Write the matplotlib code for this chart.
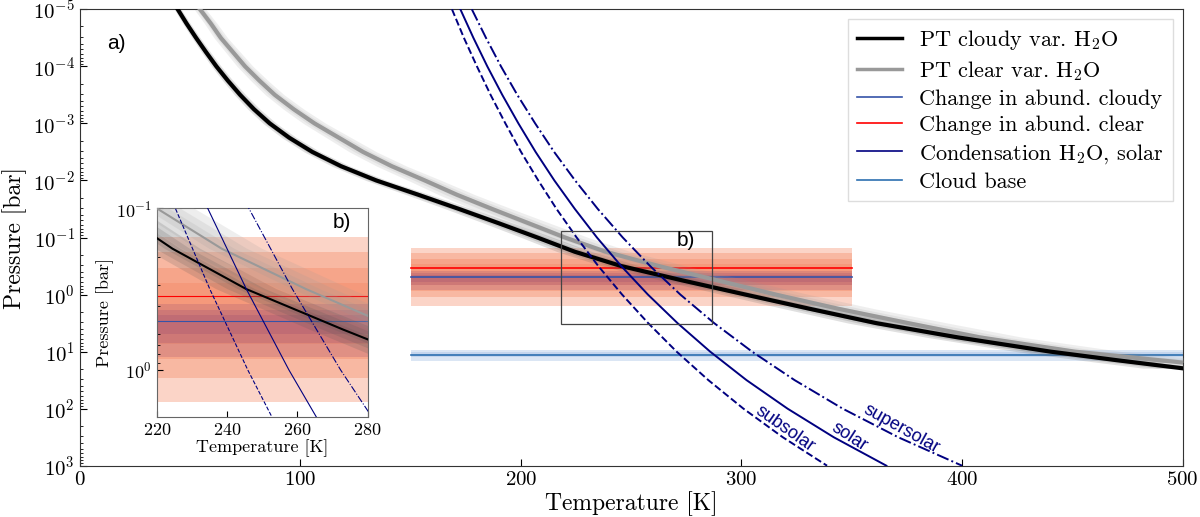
import numpy as np
import matplotlib.pyplot as plt
from matplotlib.patches import Rectangle
from matplotlib.ticker import LogLocator, NullFormatter

plt.rcParams['font.family'] = 'serif'
plt.rcParams['font.serif'] = ['cmr10']
plt.rcParams['mathtext.fontset'] = 'cm'
plt.rcParams['axes.unicode_minus'] = False
plt.rcParams['axes.formatter.use_mathtext'] = True

# PT profiles: log10 pressure [bar] and temperature [K]
logp_cloudy = [-5.0, -4.75, -4.5, -4.25, -4.0, -3.75, -3.5, -3.25, -3.0, -2.75, -2.5, -2.25,
               -2.0, -1.75, -1.5, -1.25, -1.0, -0.75, -0.5, -0.25, 0.0, 0.25, 0.5, 0.75,
               1.0, 1.15, 1.29]
T_cloudy = [44.5, 48.5, 52.8, 57.3, 62.0, 67.2, 72.8, 79.0, 86.2, 95.0, 105.5, 118.5,
            134.5, 153.5, 172.0, 190.0, 207.5, 224.5, 245.5, 273.0, 301.8, 331.0, 361.0, 398.0,
            440.0, 470.0, 499.4]
logp_clear = [-5.0, -4.75, -4.5, -4.25, -4.0, -3.75, -3.5, -3.25, -3.0, -2.75, -2.5, -2.25,
              -2.0, -1.75, -1.5, -1.25, -1.0, -0.75, -0.5, -0.25, 0.0, 0.25, 0.5, 0.75,
              1.0, 1.19]
T_clear = [54.6, 59.5, 64.0, 69.5, 75.0, 81.5, 88.5, 97.0, 106.5, 117.5, 128.5, 141.5,
           156.5, 171.0, 187.0, 203.5, 220.0, 238.5, 262.5, 289.0, 315.5, 344.0, 375.5, 408.0,
           451.0, 499.4]

# spread of the retrieved profiles (fraction of T)
spread_cloudy = [0.01, 0.022, 0.035]
spread_clear = [0.015, 0.03, 0.048]

# H2O condensation curves
logp_cond = [-5, -4.5, -4, -3.5, -3, -2.5, -2, -1.5, -1, -0.5, 0, 0.5, 1, 1.5, 2, 2.5, 3]
T_subsolar = [168.8, 174.2, 180.1, 186.3, 193.0, 200.1, 207.9, 216.2, 225.3, 235.1, 245.9,
              257.7, 270.6, 285.0, 300.9, 318.7, 338.8]
T_solar = [172.6, 178.5, 184.8, 191.6, 198.9, 206.7, 215.2, 224.5, 234.5, 245.5, 257.6,
           271.0, 285.8, 302.3, 320.9, 341.8, 365.7]
T_supersolar = [177.8, 184.2, 191.0, 198.4, 206.5, 215.1, 224.6, 234.9, 246.2, 258.6, 272.3,
                287.6, 304.8, 324.1, 345.9, 371.0, 400.0]

# change in abundance (log10 P) and its uncertainty bands
clear_level = -0.46
clear_bands = [(-0.82, 0.20), (-0.73, 0.05), (-0.63, -0.07), (-0.54, -0.16)]
cloudy_level = -0.30
cloudy_bands = [(-0.41, -0.08), (-0.37, -0.165), (-0.34, -0.22)]
abund_T = [150, 350]

# cloud base
cloud_level = 1.053
cloud_bands = [(0.965, 1.158), (1.01, 1.10)]
cloud_T = [150, 500]

# zoom box shown in the main panel
box_T = (218.4, 286.7)
box_logp = (-1.11, 0.514)

sans = 'Liberation Sans'


def draw_all(a, lw_pt, lw_thin, lw_cond):
    for lo, hi in clear_bands:
        a.fill_between(abund_T, 10 ** lo, 10 ** hi, color='#f4845f', alpha=0.35, lw=0, zorder=1)
    for lo, hi in cloudy_bands:
        a.fill_between(abund_T, 10 ** lo, 10 ** hi, color='#8a4070', alpha=0.2, lw=0, zorder=1)
    for lo, hi in cloud_bands:
        a.fill_between(cloud_T, 10 ** lo, 10 ** hi, color='#9ab8e0', alpha=0.35, lw=0, zorder=1)
    a.plot(abund_T, [10 ** cloudy_level] * 2, color='#3553a8', lw=lw_thin, zorder=2)
    a.plot(abund_T, [10 ** clear_level] * 2, color='red', lw=lw_thin, zorder=2)
    a.plot(cloud_T, [10 ** cloud_level] * 2, color='#2c6fb0', lw=lw_thin, zorder=2)

    Tc, pc = np.array(T_cloudy), 10 ** np.array(logp_cloudy)
    Tk, pk = np.array(T_clear), 10 ** np.array(logp_clear)
    for f in spread_clear:
        a.fill_betweenx(pk, Tk * (1 - f), Tk * (1 + f), color='#999999', alpha=0.16, lw=0, zorder=3)
    for f in spread_cloudy:
        a.fill_betweenx(pc, Tc * (1 - f), Tc * (1 + f), color='#555555', alpha=0.18, lw=0, zorder=3)
    a.plot(Tk, pk, color='#999999', lw=lw_pt, zorder=4)
    a.plot(Tc, pc, color='black', lw=lw_pt, zorder=5)

    pcond = 10 ** np.array(logp_cond)
    a.plot(T_subsolar, pcond, color='navy', lw=lw_cond, ls='--', zorder=6)
    a.plot(T_solar, pcond, color='navy', lw=lw_cond, ls='-', zorder=6)
    a.plot(T_supersolar, pcond, color='navy', lw=lw_cond, ls='-.', zorder=6)


fig = plt.figure(figsize=(12, 5.17), dpi=100)
ax = fig.add_axes([0.0663, 0.0992, 0.9193, 0.8828])
draw_all(ax, 3.0, 1.2, 1.4)

ax.add_patch(Rectangle((box_T[0], 10 ** box_logp[0]), box_T[1] - box_T[0],
                       10 ** box_logp[1] - 10 ** box_logp[0],
                       fill=False, ec='#444444', lw=0.9, zorder=7))
ax.text(275, 10 ** -0.94, 'b)', family=sans, fontsize=15, ha='center', va='center', zorder=8)
ax.text(0.033, 0.926, 'a)', transform=ax.transAxes, family=sans, fontsize=15,
        ha='center', va='center')

ax.text(319.6, 10 ** 2.35, 'subsolar', rotation=-35, color='navy', family=sans, fontsize=13,
        ha='center', va='center', rotation_mode='anchor')
ax.text(349, 10 ** 2.49, 'solar', rotation=-33, color='navy', family=sans, fontsize=13,
        ha='center', va='center', rotation_mode='anchor')
ax.text(372.6, 10 ** 2.35, 'supersolar', rotation=-29, color='navy', family=sans, fontsize=13,
        ha='center', va='center', rotation_mode='anchor')

ax.set_yscale('log')
ax.set_xlim(0, 500)
ax.set_ylim(1e3, 1e-5)
ax.set_xticks([0, 100, 200, 300, 400, 500])
ax.yaxis.set_major_locator(LogLocator(base=10, numticks=20))
ax.yaxis.set_minor_locator(LogLocator(base=10, subs=np.arange(2, 10), numticks=20))
ax.yaxis.set_minor_formatter(NullFormatter())
ax.tick_params(which='both', direction='in', labelsize=15)
ax.tick_params(which='major', length=5)
ax.tick_params(which='minor', length=2.5)
ax.set_xlabel('Temperature [K]', fontsize=17, labelpad=2)
ax.set_ylabel('Pressure [bar]', fontsize=17, labelpad=4)
for s in ax.spines.values():
    s.set_color('#333333')

handles = [
    plt.Line2D([], [], color='black', lw=2.5),
    plt.Line2D([], [], color='#999999', lw=2.5),
    plt.Line2D([], [], color='#3553a8', lw=1.2),
    plt.Line2D([], [], color='red', lw=1.2),
    plt.Line2D([], [], color='navy', lw=1.2),
    plt.Line2D([], [], color='#2c6fb0', lw=1.2),
]
labels = [r'PT cloudy var. $\mathrm{H_2O}$', r'PT clear var. $\mathrm{H_2O}$',
          'Change in abund. cloudy', 'Change in abund. clear',
          r'Condensation $\mathrm{H_2O}$, solar', 'Cloud base']
leg = ax.legend(handles, labels, loc='upper right', fontsize=16, fancybox=False,
                edgecolor='#dddddd', framealpha=1, borderaxespad=0.45, handlelength=2.0,
                handletextpad=0.8, labelspacing=0.3, borderpad=0.4)
leg.set_zorder(10)

# inset
axi = fig.add_axes([0.1306, 0.1928, 0.1758, 0.4043])
draw_all(axi, 1.5, 0.8, 0.8)
axi.set_yscale('log')
axi.set_xlim(220, 280)
axi.set_ylim(10 ** 0.293, 0.1)
axi.set_xticks([220, 240, 260, 280])
axi.yaxis.set_major_locator(LogLocator(base=10, numticks=10))
axi.yaxis.set_minor_locator(LogLocator(base=10, subs=np.arange(2, 10), numticks=10))
axi.yaxis.set_minor_formatter(NullFormatter())
axi.tick_params(which='both', direction='in', labelsize=13)
axi.tick_params(which='major', length=4)
axi.tick_params(which='minor', length=2)
axi.set_xlabel('Temperature [K]', fontsize=13, labelpad=1)
axi.set_ylabel('Pressure [bar]', fontsize=13, labelpad=1)
axi.text(0.878, 0.93, 'b)', transform=axi.transAxes, family=sans, fontsize=15,
         ha='center', va='center', zorder=8)
for s in axi.spines.values():
    s.set_color('#666666')

fig.savefig('out.png', dpi=100)
